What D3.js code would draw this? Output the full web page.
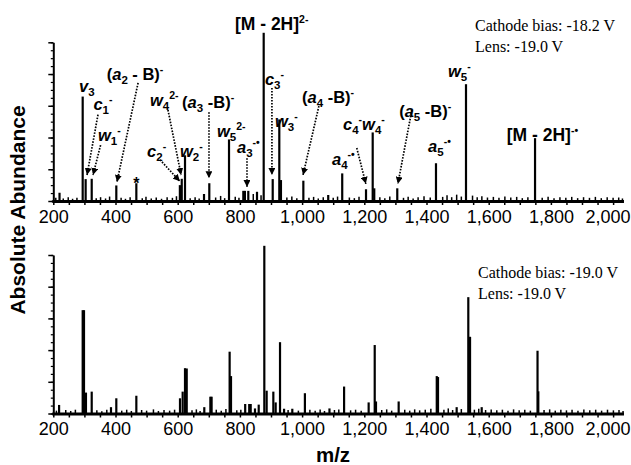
<!DOCTYPE html>
<html>
<head>
<meta charset="utf-8">
<script src="https://cdn.jsdelivr.net/npm/d3@7"></script>
<style>
body{margin:0;background:#fff}
svg{display:block}
text{font-family:"Liberation Sans",Arial,sans-serif;fill:#000}
</style>
</head>
<body>
<svg id="chart" width="631" height="465"></svg>
<script>
// ---- data (m/z, abundance in axis units 0..5) ----
const tickValuesX = d3.range(200, 2001, 50);
const labelTicksX = [200,400,600,800,1000,1200,1400,1600,1800,2000];

const peaksTop = [
  [220,0.26],[294.5,3.29],[304,0.69],[323.5,0.70],[402.6,0.49],[467,0.56],
  [607,0.50],[613,0.70],[623.5,1.44],[684.6,0.22],[701.6,0.56],[765,1.94],
  [811,0.32],[816,0.32],[827,0.32],[855,0.29],[876.5,5.30],[905.5,0.69],
  [926.7,2.57],[932,0.66],[1004,0.64],[1084,0.19],[1129,0.87],[1205.5,0.37],
  [1227,2.16],[1232,0.40],[1306,0.40],[1430.5,1.19],[1527,3.68],[1749,1.98]
];
const noiseTop = [
  [208,0.10],[232,0.08],[248,0.12],[262,0.07],[276,0.10],[338,0.09],[352,0.12],[368,0.08],
  [381,0.14],[418,0.10],[432,0.07],[447,0.12],[486,0.09],[498,0.13],[515,0.08],[531,0.11],
  [548,0.07],[566,0.12],[583,0.10],[596,0.15],[640,0.09],[656,0.12],[669,0.08],[722,0.11],
  [738,0.16],[751,0.09],[785,0.13],[797,0.10],[843,0.22],[868,0.18],[951,0.11],[967,0.14],
  [983,0.09],[1022,0.10],[1037,0.13],[1052,0.08],[1068,0.12],[1100,0.10],[1114,0.14],[1152,0.11],
  [1168,0.09],[1183,0.13],[1250,0.12],[1266,0.09],[1282,0.14],[1326,0.10],[1341,0.13],[1357,0.08],
  [1373,0.12],[1392,0.15],[1412,0.11],[1452,0.13],[1466,0.18],[1481,0.12],[1497,0.20],[1512,0.14],
  [1548,0.17],[1563,0.12],[1578,0.15],[1596,0.11],[1615,0.13],[1633,0.10],[1652,0.14],[1671,0.11],
  [1690,0.13],[1708,0.09],[1726,0.12],[1772,0.10],[1791,0.13],[1810,0.09],[1829,0.12],[1848,0.10],
  [1867,0.13],[1886,0.09],[1905,0.12],[1924,0.10],[1943,0.13],[1962,0.09],[1981,0.12],[2000,0.10],
  [2018,0.11],[2030,0.08]
];

const peaksBottom = [
  [218.6,0.27],[294.5,3.26],[298.7,3.26],[305,0.66],[323.5,0.69],[385.5,0.20],[402.6,0.48],
  [467,0.56],[607.4,0.48],[616,0.69],[623.5,1.43],[629,1.42],[685.5,0.20],[705,0.53],[709,0.53],
  [767,1.95],[771.4,1.18],[817,0.30],[830,0.30],[834.7,0.30],[848.5,0.16],[860.5,0.28],
  [878.5,5.29],[886,0.72],[907.5,0.69],[915,0.35],[929,2.25],[942,0.15],[968.5,0.15],
  [1009,0.64],[1088,0.16],[1135,0.85],[1214,0.35],[1233.5,2.16],[1237.6,0.38],[1310.5,0.38],
  [1433,1.18],[1437,1.15],[1497,0.20],[1534.4,3.67],[1540,2.42],[1577.5,0.20],[1757,1.98],[1759.5,0.70]
];
const noiseBottom = [
  [210,0.09],[240,0.11],[256,0.08],[271,0.12],[340,0.10],[356,0.07],[372,0.12],[420,0.09],
  [436,0.12],[451,0.08],[484,0.11],[500,0.09],[522,0.13],[538,0.08],[556,0.11],[574,0.09],
  [590,0.12],[646,0.10],[660,0.13],[672,0.08],[724,0.12],[740,0.09],[755,0.14],[790,0.10],
  [803,0.12],[955,0.11],[988,0.09],[1025,0.12],[1042,0.09],[1058,0.13],[1072,0.08],[1104,0.11],
  [1118,0.13],[1156,0.10],[1172,0.12],[1190,0.09],[1256,0.11],[1272,0.13],[1288,0.09],[1330,0.12],
  [1346,0.09],[1362,0.13],[1378,0.10],[1396,0.12],[1414,0.15],[1456,0.12],[1470,0.16],[1484,0.11],
  [1512,0.14],[1554,0.12],[1568,0.15],[1590,0.11],[1608,0.13],[1626,0.10],[1644,0.12],[1662,0.09],
  [1680,0.13],[1698,0.10],[1716,0.12],[1734,0.09],[1778,0.11],[1796,0.13],[1814,0.09],[1832,0.12],
  [1850,0.10],[1868,0.12],[1887,0.09],[1906,0.13],[1925,0.10],[1944,0.12],[1963,0.09],[1982,0.12],
  [2001,0.10],[2019,0.11],[2032,0.08]
];

// peak annotations: text parts (b=bold, i=bold italic, sub, sup)
const labelTexts = [
  [['b','[M - 2H]'],['sup','2-']],
  [['i','v'],['sub','3']],
  [['i','c'],['sub','1'],['sup','-']],
  [['i','w'],['sub','1'],['sup','-']],
  [['b','('],['i','a'],['sub','2'],['b',' - B)'],['sup','-']],
  [['i','w'],['sub','4'],['sup','2-']],
  [['b','('],['i','a'],['sub','3'],['b',' -B)'],['sup','-']],
  [['i','c'],['sub','2'],['sup','-']],
  [['i','w'],['sub','2'],['sup','-']],
  [['i','w'],['sub','5'],['sup','2-']],
  [['i','a'],['sub','3'],['sup','-\u2022']],
  [['i','c'],['sub','3'],['sup','-']],
  [['i','w'],['sub','3'],['sup','-']],
  [['b','('],['i','a'],['sub','4'],['b',' -B)'],['sup','-']],
  [['i','a'],['sub','4'],['sup','-\u2022']],
  [['i','c'],['sub','4'],['sup','-'],['i','w'],['sub','4'],['sup','-']],
  [['b','('],['i','a'],['sub','5'],['b',' -B)'],['sup','-']],
  [['i','a'],['sub','5'],['sup','-\u2022']],
  [['i','w'],['sub','5'],['sup','-']],
  [['b','[M - 2H]'],['sup','-\u2022']]
];
// layout: label anchors in data space (m/z, abundance), same order as labelTexts
const labelAnchors = [
  [784,5.39],[282.6,3.43],[329,2.86],[343.7,1.89],[371.7,3.81],[511,2.99],[614,2.93],
  [501.6,1.39],[607.4,1.39],[726.4,2.02],[790.7,1.51],[880.5,3.65],[912.7,2.33],[999.7,3.09],
  [1096,1.13],[1131.5,2.24],[1312,2.65],[1405,1.54],[1469,3.91],[1658,1.89]
];
const bigLabels = [0,19];
// dotted arrows: [from, to] in data space
const arrowsTop = [
  [[343.7,2.72],[308.4,0.82]],
  [[352,1.76],[327.8,0.82]],
  [[472.6,3.72],[404.7,0.60]],
  [[543,1.30],[607,0.62]],
  [[568.7,2.87],[611,0.82]],
  [[700.6,2.80],[700.6,0.72]],
  [[822.8,1.35],[822.8,0.44]],
  [[903,3.56],[903,0.82]],
  [[1054,2.99],[1003,0.82]],
  [[1175.8,1.67],[1205,0.54]],
  [[1353,2.87],[1308,0.54]]
];
const notesTop = ['Cathode bias: -18.2 V','Lens: -19.0 V'];
const notesBottom = ['Cathode bias: -19.0 V','Lens: -19.0 V'];

// ---- drawing ----
const svg = d3.select('#chart');
svg.append('rect').attr('width',631).attr('height',465).attr('fill','#fff');

svg.append('defs').append('marker')
   .attr('id','arr').attr('viewBox','0 0 10 10')
   .attr('refX',10).attr('refY',5)
   .attr('markerUnits','userSpaceOnUse')
   .attr('markerWidth',7).attr('markerHeight',7)
   .attr('orient','auto')
   .append('path').attr('d','M0,0 L10,5 L0,10 z').attr('fill','#000');

const x = d3.scaleLinear().domain([200,2000]).range([53.3,613.1]);
const yTop = d3.scaleLinear().domain([0,5]).range([201,42.3]);
const yBot = d3.scaleLinear().domain([0,5]).range([413.5,255]);

function drawPanel(y, peaks, noise, notes, noteX, noteY) {
  const g = svg.append('g');

  g.selectAll('line.noise').data(noise).join('line')
    .attr('class','noise')
    .attr('x1',d=>x(d[0])).attr('x2',d=>x(d[0]))
    .attr('y1',y(0)).attr('y2',d=>y(d[1]))
    .attr('stroke','#000').attr('stroke-width',1.5);

  g.selectAll('line.peak').data(peaks).join('line')
    .attr('class','peak')
    .attr('x1',d=>x(d[0])).attr('x2',d=>x(d[0]))
    .attr('y1',y(0)).attr('y2',d=>y(d[1]))
    .attr('stroke','#000').attr('stroke-width',2.2);

  // x axis: ticks every 50, labels every 200
  const xa = g.append('g').attr('transform',`translate(0,${y(0)})`)
    .call(d3.axisBottom(x).tickValues(tickValuesX).tickSize(4).tickSizeOuter(0).tickPadding(5)
      .tickFormat(d => labelTicksX.includes(d) ? d3.format(',')(d) : ''));
  xa.select('.domain').remove();
  xa.selectAll('line').attr('stroke-width',1.5);
  xa.attr('font-size',18).attr('font-family',null);
  xa.selectAll('text').attr('fill','#000');
  // last label pulled in so it stays inside the frame
  xa.selectAll('.tick').filter(d => d===2000).select('text')
    .attr('text-anchor','end').attr('x',17);

  g.append('line')
    .attr('x1',x(200)-1).attr('x2',x(2035))
    .attr('y1',y(0)+0.5).attr('y2',y(0)+0.5)
    .attr('stroke','#000').attr('stroke-width',3);

  // y axis: major + minor ticks, no labels
  const ya = g.append('g').attr('transform',`translate(${x(200)},0)`)
    .call(d3.axisLeft(y).tickValues(d3.range(0,5.01,1)).tickSize(5).tickSizeOuter(0).tickFormat(''));
  ya.select('.domain').attr('stroke-width',2);
  ya.selectAll('line').attr('stroke-width',1.5);
  const ym = g.append('g').attr('transform',`translate(${x(200)},0)`)
    .call(d3.axisLeft(y).tickValues(d3.range(0,5.01,0.25)).tickSize(2.5).tickSizeOuter(0).tickFormat(''));
  ym.select('.domain').remove();
  ym.selectAll('line').attr('stroke-width',1.2);

  g.selectAll('text.note').data(notes).join('text')
    .attr('class','note')
    .attr('x',noteX).attr('y',(d,i)=>noteY+i*21)
    .style('font-family','"Liberation Serif","Times New Roman",serif')
    .attr('font-size',16)
    .text(d=>d);
  return g;
}

const gTop = drawPanel(yTop, peaksTop, noiseTop, notesTop, 475, 30.5);
drawPanel(yBot, peaksBottom, noiseBottom, notesBottom, 478, 278);

// dotted arrows
gTop.selectAll('line.arrow').data(arrowsTop).join('line')
  .attr('class','arrow')
  .attr('x1',d=>x(d[0][0])).attr('y1',d=>yTop(d[0][1]))
  .attr('x2',d=>x(d[1][0])).attr('y2',d=>yTop(d[1][1]))
  .attr('stroke','#000').attr('stroke-width',1.7)
  .attr('stroke-dasharray','1.6,1.4')
  .attr('marker-end','url(#arr)');

// labels with sub/superscripts
labelTexts.forEach((parts,i) => {
  const big = bigLabels.includes(i);
  const t = gTop.append('text')
    .attr('x',x(labelAnchors[i][0])).attr('y',yTop(labelAnchors[i][1]))
    .attr('font-size', big ? 17.5 : 16.5)
    .attr('font-weight','bold')
    .style('white-space','pre');
  let shift = 0;
  parts.forEach(([k,s]) => {
    const target = k==='sub' ? 4 : k==='sup' ? -7 : 0;
    const ts = t.append('tspan').attr('dy', target - shift).text(s);
    shift = target;
    if (k==='i') ts.attr('font-style','italic');
    if (k==='sub') ts.attr('font-size',11.5);
    if (k==='sup') ts.attr('font-size',10.5);
  });
});

gTop.append('text')
  .attr('x',x(467)).attr('y',yTop(0.38))
  .attr('text-anchor','middle').attr('font-size',16).attr('font-weight','bold')
  .text('*');

// axis titles
svg.append('text')
  .attr('transform','translate(25,210) rotate(-90)')
  .attr('text-anchor','middle').attr('font-size',21).attr('font-weight','bold')
  .text('Absolute Abundance');
svg.append('text')
  .attr('x',333).attr('y',462)
  .attr('text-anchor','middle').attr('font-size',20.5).attr('font-weight','bold')
  .text('m/z');
</script>
</body>
</html>
